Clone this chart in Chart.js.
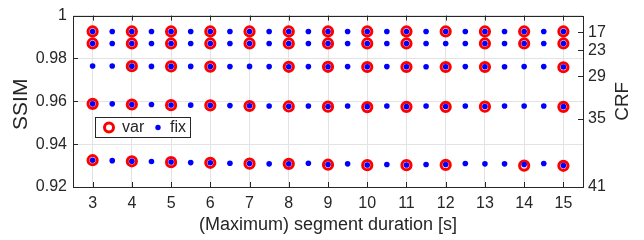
<!DOCTYPE html>
<html>
<head>
<meta charset="utf-8">
<script src="https://cdn.jsdelivr.net/npm/chart.js@4/dist/chart.umd.min.js"></script>
<style>
    html, body { margin: 0; padding: 0; background: #fff; }
    #wrap { width: 644px; height: 240px; }
</style>
</head>
<body>
<div id="wrap"><canvas id="ssimChart" width="644" height="240"></canvas></div>
<script>
const FONT = "'Liberation Sans', Arial, Helvetica, sans-serif";

// segment durations
const durations = [3, 4, 5, 6, 7, 8, 9, 10, 11, 12, 13, 14, 15];
const fixDurations = [3, 3.5, 4, 4.5, 5, 5.5, 6, 6.5, 7, 7.5, 8, 8.5, 9, 9.5, 10, 10.5, 11, 11.5, 12, 12.5, 13, 13.5, 14, 14.5, 15];

// left axis ticks
const ssimTicks = [0.92, 0.94, 0.96, 0.98, 1];

// right axis (CRF) tick labels and their SSIM positions
const crfLabels = ['17', '23', '29', '35', '41'];
const crfAt = [0.9922, 0.9838, 0.9717, 0.9518, 0.92];

// "fix" series, one row per CRF, values at fixDurations
const fixCrf17 = [0.9926, 0.9926, 0.9926, 0.9926, 0.9926, 0.9926, 0.9926, 0.9926, 0.9926, 0.9926, 0.9926, 0.9926, 0.9926, 0.9926, 0.9926, 0.9926, 0.9926, 0.9926, 0.9926, 0.9926, 0.9926, 0.9926, 0.9926, 0.9926, 0.9926];
const fixCrf23 = [0.9870, 0.9870, 0.9870, 0.9870, 0.9870, 0.9870, 0.9870, 0.9870, 0.9870, 0.9870, 0.9870, 0.9870, 0.9870, 0.9870, 0.9870, 0.9870, 0.9870, 0.9870, 0.9870, 0.9870, 0.9870, 0.9870, 0.9870, 0.9870, 0.9870];
const fixCrf29 = [0.9765, 0.9765, 0.9764, 0.9763, 0.9763, 0.9763, 0.9762, 0.9762, 0.9763, 0.9762, 0.9761, 0.9762, 0.9761, 0.9762, 0.9761, 0.9762, 0.9761, 0.9761, 0.9761, 0.9762, 0.9761, 0.9761, 0.9762, 0.9762, 0.9760];
const fixCrf35 = [0.9588, 0.9588, 0.9585, 0.9585, 0.9583, 0.9582, 0.9581, 0.9580, 0.9579, 0.9578, 0.9577, 0.9578, 0.9576, 0.9578, 0.9575, 0.9578, 0.9575, 0.9578, 0.9576, 0.9578, 0.9576, 0.9578, 0.9578, 0.9578, 0.9575];
const fixCrf41 = [0.9325, 0.9323, 0.9320, 0.9319, 0.9317, 0.9314, 0.9313, 0.9311, 0.9310, 0.9308, 0.9308, 0.9311, 0.9305, 0.9308, 0.9303, 0.9305, 0.9303, 0.9305, 0.9305, 0.9310, 0.9308, 0.9308, 0.9305, 0.9310, 0.9300];

// "var" series, values at durations (null = no point)
const varCrf17 = [0.9926, 0.9926, 0.9926, 0.9926, 0.9926, 0.9926, 0.9926, 0.9926, 0.9926, 0.9926, 0.9926, 0.9926, 0.9926];
const varCrf23 = [0.9870, 0.9870, 0.9870, 0.9870, 0.9870, 0.9870, 0.9870, 0.9870, 0.9870, null, 0.9870, 0.9870, 0.9870];
const varCrf29 = [null, 0.9764, 0.9763, 0.9762, null, 0.9761, 0.9761, 0.9760, 0.9760, 0.9760, 0.9760, null, 0.9759];
const varCrf35 = [0.9588, 0.9585, 0.9582, 0.9581, 0.9578, 0.9576, 0.9575, 0.9573, 0.9574, 0.9574, 0.9575, null, 0.9574];
const varCrf41 = [0.9325, 0.9320, 0.9316, 0.9313, 0.9309, 0.9308, 0.9304, 0.9302, 0.9302, 0.9303, null, 0.9300, 0.9299];

function toPoints(xs, rows) {
    const pts = [];
    rows.forEach(row => {
        row.forEach((y, i) => {
            if (y !== null) pts.push({ x: xs[i], y: y });
        });
    });
    return pts;
}

const varPoints = toPoints(durations, [varCrf17, varCrf23, varCrf29, varCrf35, varCrf41]);
const fixPoints = toPoints(fixDurations, [fixCrf17, fixCrf23, fixCrf29, fixCrf35, fixCrf41]);

// matlab-like frame: box, inward ticks, titles, legend
const framePlugin = {
    id: 'frame',
    afterDraw(chart) {
        const ctx = chart.ctx;
        const a = chart.chartArea;
        const xs = chart.scales.x;
        const yl = chart.scales.y;
        const yr = chart.scales.y2;
        const tl = 5;
        ctx.save();
        ctx.strokeStyle = '#262626';
        ctx.lineWidth = 1;
        ctx.beginPath();
        durations.forEach(v => {
            const px = Math.round(xs.getPixelForValue(v)) + 0.5;
            ctx.moveTo(px, a.bottom); ctx.lineTo(px, a.bottom - tl);
            ctx.moveTo(px, a.top); ctx.lineTo(px, a.top + tl);
        });
        ssimTicks.forEach(v => {
            const py = Math.round(yl.getPixelForValue(v)) + 0.5;
            ctx.moveTo(a.left, py); ctx.lineTo(a.left + tl, py);
        });
        crfAt.forEach(v => {
            const py = Math.round(yr.getPixelForValue(v)) + 0.5;
            ctx.moveTo(a.right, py); ctx.lineTo(a.right - tl, py);
        });
        ctx.stroke();
        ctx.strokeRect(Math.round(a.left) + 0.5, Math.round(a.top) + 0.5,
            Math.round(a.right - a.left), Math.round(a.bottom - a.top));

        // axis titles
        ctx.fillStyle = '#262626';
        ctx.textAlign = 'center';
        ctx.textBaseline = 'middle';
        ctx.font = '18px ' + FONT;
        ctx.fillText('(Maximum) segment duration [s]', (a.left + a.right) / 2, 225);
        ctx.save();
        ctx.translate(21, (a.top + a.bottom) / 2 + 3);
        ctx.rotate(-Math.PI / 2);
        ctx.font = '21px ' + FONT;
        ctx.fillText('SSIM', 0, 0);
        ctx.restore();
        ctx.save();
        ctx.translate(623, (a.top + a.bottom) / 2);
        ctx.rotate(-Math.PI / 2);
        ctx.font = '19px ' + FONT;
        ctx.fillText('CRF', 0, 0);
        ctx.restore();

        // legend box
        ctx.fillStyle = '#ffffff';
        ctx.fillRect(95.5, 117.5, 95, 20);
        ctx.strokeRect(95.5, 117.5, 95, 20);
        ctx.beginPath();
        ctx.arc(109, 127.5, 4.5, 0, Math.PI * 2);
        ctx.strokeStyle = '#ff0000';
        ctx.lineWidth = 3;
        ctx.stroke();
        ctx.beginPath();
        ctx.arc(158, 127.5, 2.7, 0, Math.PI * 2);
        ctx.fillStyle = '#0000ff';
        ctx.fill();
        ctx.fillStyle = '#262626';
        ctx.textAlign = 'left';
        ctx.font = '16px ' + FONT;
        ctx.fillText(chart.data.datasets[0].label, 122, 128);
        ctx.fillText(chart.data.datasets[1].label, 170, 128);
        ctx.restore();
    }
};

const tickFont = { family: FONT, size: 16 };
const gridColor = '#e3e3e3';

const ctx = document.getElementById('ssimChart').getContext('2d');
new Chart(ctx, {
    type: 'scatter',
    data: {
        datasets: [
            {
                label: 'var',
                data: varPoints,
                pointStyle: 'circle',
                pointRadius: 4.6,
                pointBorderWidth: 3,
                borderColor: '#ff0000',
                backgroundColor: 'rgba(0,0,0,0)',
                order: 1
            },
            {
                label: 'fix',
                data: fixPoints,
                pointStyle: 'circle',
                pointRadius: 2.8,
                pointBorderWidth: 0,
                borderColor: '#0000ff',
                backgroundColor: '#0000ff',
                order: 0
            }
        ]
    },
    options: {
        responsive: false,
        animation: false,
        layout: { padding: { top: 6, left: 0, right: 0, bottom: 0 } },
        plugins: {
            legend: { display: false },
            tooltip: { enabled: false }
        },
        scales: {
            x: {
                type: 'linear',
                min: 2.5,
                max: 15.5,
                afterBuildTicks: scale => { scale.ticks = durations.map(v => ({ value: v })); },
                afterFit: scale => { scale.height = 53; },
                ticks: { font: tickFont, color: '#262626', padding: 7, maxRotation: 0, autoSkip: false },
                grid: { color: gridColor, drawTicks: false },
                border: { display: false }
            },
            y: {
                type: 'linear',
                position: 'left',
                min: 0.92,
                max: 1,
                afterBuildTicks: scale => { scale.ticks = ssimTicks.map(v => ({ value: v })); },
                afterFit: scale => { scale.width = 73; },
                ticks: {
                    font: tickFont,
                    color: '#262626',
                    padding: 6,
                    callback: v => (v === 1 ? '1' : v.toFixed(2))
                },
                grid: { color: gridColor, drawTicks: false },
                border: { display: false }
            },
            y2: {
                type: 'linear',
                position: 'right',
                min: 0.92,
                max: 1,
                afterBuildTicks: scale => { scale.ticks = crfAt.map(v => ({ value: v })); },
                afterFit: scale => { scale.width = 61; },
                ticks: {
                    font: tickFont,
                    color: '#262626',
                    padding: 5,
                    callback: (v, i) => crfLabels[i]
                },
                grid: { drawOnChartArea: false, drawTicks: false },
                border: { display: false }
            }
        }
    },
    plugins: [framePlugin]
});
</script>
</body>
</html>
